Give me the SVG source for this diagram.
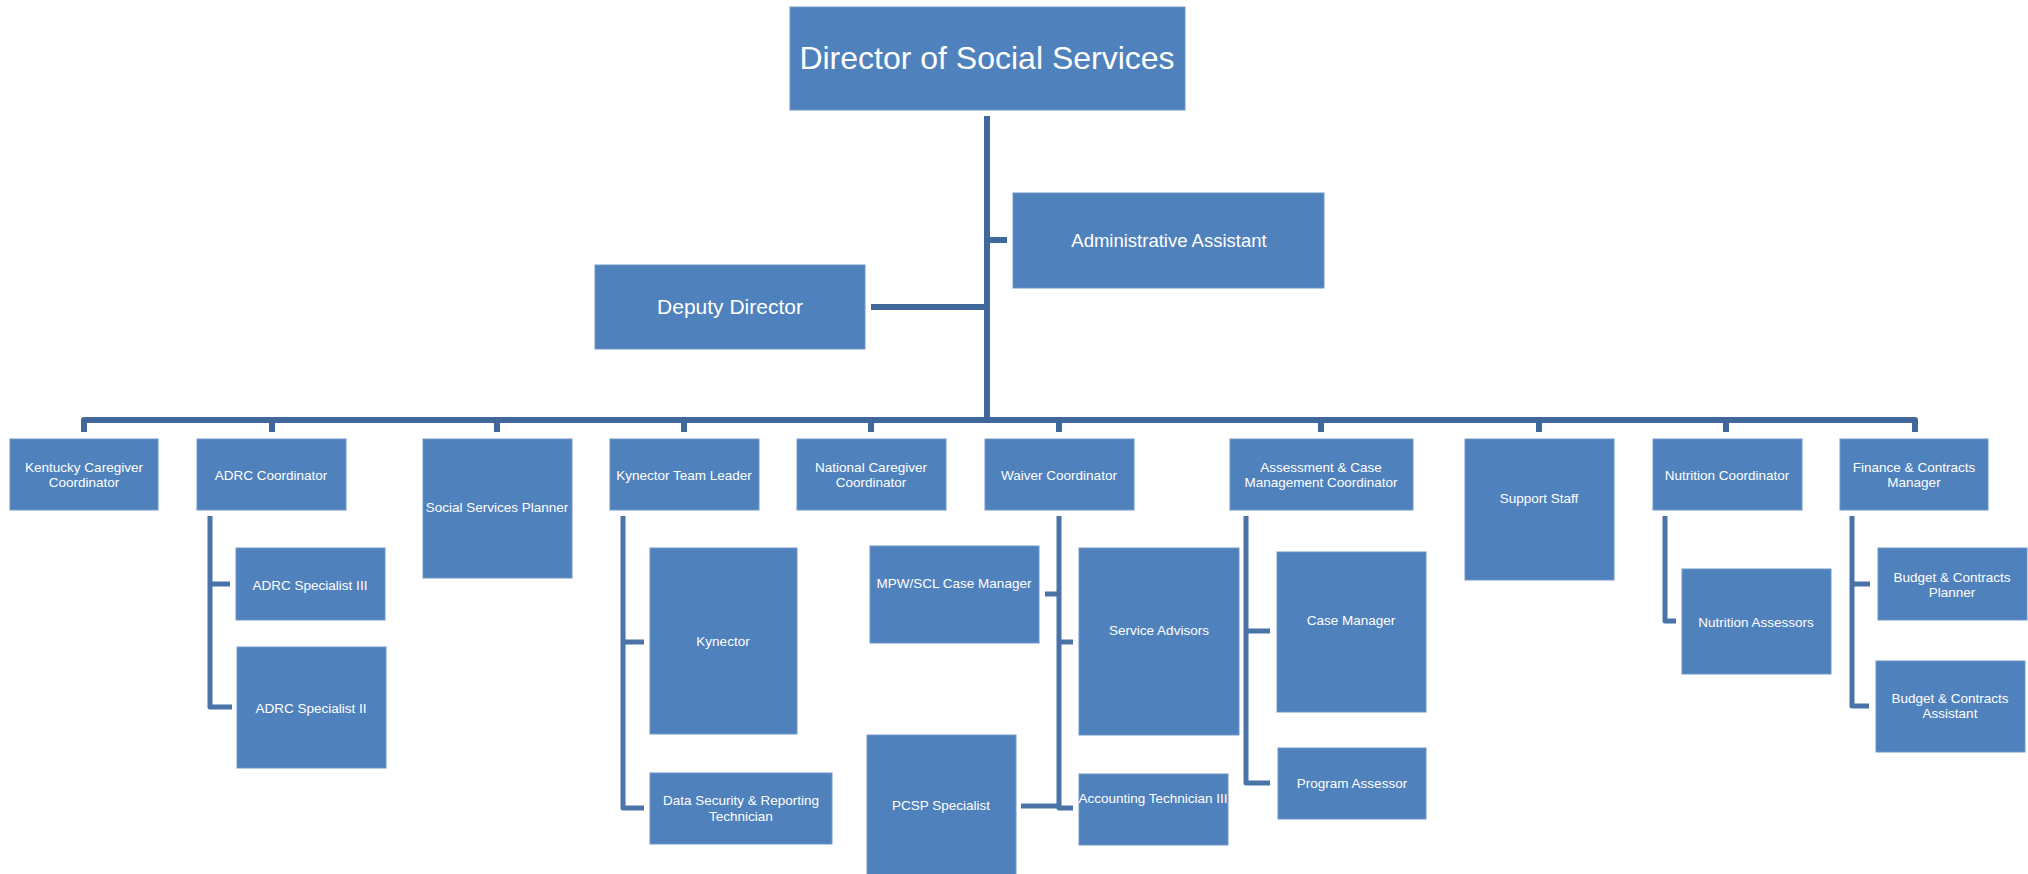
<svg xmlns="http://www.w3.org/2000/svg" width="2028" height="874" viewBox="0 0 2028 874">
<style>
.box{fill:#4F81BD;stroke:#7097C8;stroke-width:1}
.t{font-family:"Liberation Sans",Arial,sans-serif;fill:#FFFFFF;text-anchor:middle;font-size:13.5px}
.ln{fill:none;stroke:#41689B;stroke-width:6;stroke-linejoin:round;stroke-linecap:butt}
.sl{fill:none;stroke:#4A73A8;stroke-width:5;stroke-linejoin:round;stroke-linecap:butt}
</style>
<rect width="2028" height="874" fill="#FFFFFF"/>
<g id="connectors">
<path class="ln" d="M987 116 V420"/>
<path class="ln" d="M871 307 H987"/>
<path class="ln" d="M987 240 H1007"/>
<path class="ln" d="M84 432 V420 H1915 V432"/>
<path class="ln" d="M272 420 V432 M497 420 V432 M684 420 V432 M871 420 V432 M1059 420 V432 M1321 420 V432 M1539 420 V432 M1726 420 V432"/>
<path class="sl" d="M210 516 V707 H232 M210 584 H230"/>
<path class="sl" d="M623 516 V808 H644 M623 642 H644"/>
<path class="sl" d="M1059 516 V808 H1073 M1059 594 H1045 M1059 642 H1073 M1021 806 H1059"/>
<path class="sl" d="M1246 516 V783 H1270 M1246 631 H1270"/>
<path class="sl" d="M1665 516 V621 H1676"/>
<path class="sl" d="M1852 516 V706 H1869 M1852 584 H1870"/>
</g>
<g id="director"><rect class="box" x="790" y="7" width="395" height="103"/><text class="t" x="987" y="69" style="font-size:32px">Director of Social Services</text></g>
<g id="admin-assistant"><rect class="box" x="1013" y="193" width="311" height="95"/><text class="t" x="1169" y="247" style="font-size:18.5px">Administrative Assistant</text></g>
<g id="deputy-director"><rect class="box" x="595" y="265" width="270" height="84"/><text class="t" x="730" y="314" style="font-size:21px">Deputy Director</text></g>

<g id="kentucky-caregiver"><rect class="box" x="10" y="439" width="148" height="71"/><text class="t" x="84" y="472">Kentucky Caregiver</text><text class="t" x="84" y="487">Coordinator</text></g>
<g id="adrc-coordinator"><rect class="box" x="197" y="439" width="149" height="71"/><text class="t" x="271" y="480">ADRC Coordinator</text></g>
<g id="social-services-planner"><rect class="box" x="423" y="439" width="149" height="139"/><text class="t" x="497" y="512">Social Services Planner</text></g>
<g id="kynector-team-leader"><rect class="box" x="610" y="439" width="149" height="71"/><text class="t" x="684" y="480">Kynector Team Leader</text></g>
<g id="national-caregiver"><rect class="box" x="797" y="439" width="149" height="71"/><text class="t" x="871" y="472">National Caregiver</text><text class="t" x="871" y="487">Coordinator</text></g>
<g id="waiver-coordinator"><rect class="box" x="985" y="439" width="149" height="71"/><text class="t" x="1059" y="480">Waiver Coordinator</text></g>
<g id="assessment-coordinator"><rect class="box" x="1230" y="439" width="183" height="71"/><text class="t" x="1321" y="472">Assessment &amp; Case</text><text class="t" x="1321" y="487">Management Coordinator</text></g>
<g id="support-staff"><rect class="box" x="1465" y="439" width="149" height="141"/><text class="t" x="1539" y="503">Support Staff</text></g>
<g id="nutrition-coordinator"><rect class="box" x="1653" y="439" width="149" height="71"/><text class="t" x="1727" y="480">Nutrition Coordinator</text></g>
<g id="finance-manager"><rect class="box" x="1840" y="439" width="148" height="71"/><text class="t" x="1914" y="472">Finance &amp; Contracts</text><text class="t" x="1914" y="487">Manager</text></g>

<g id="adrc-specialist-3"><rect class="box" x="236" y="548" width="149" height="72"/><text class="t" x="310" y="590">ADRC Specialist III</text></g>
<g id="adrc-specialist-2"><rect class="box" x="237" y="647" width="149" height="121"/><text class="t" x="311" y="713">ADRC Specialist II</text></g>
<g id="kynector"><rect class="box" x="650" y="548" width="147" height="186"/><text class="t" x="723" y="646">Kynector</text></g>
<g id="data-security"><rect class="box" x="650" y="773" width="182" height="71"/><text class="t" x="741" y="805">Data Security &amp; Reporting</text><text class="t" x="741" y="821">Technician</text></g>
<g id="mpw-scl"><rect class="box" x="870" y="546" width="169" height="97"/><text class="t" x="954" y="588">MPW/SCL Case Manager</text></g>
<g id="service-advisors"><rect class="box" x="1079" y="548" width="160" height="187"/><text class="t" x="1159" y="635">Service Advisors</text></g>
<g id="pcsp-specialist"><rect class="box" x="867" y="735" width="149" height="145"/><text class="t" x="941" y="810">PCSP Specialist</text></g>
<g id="accounting-tech"><rect class="box" x="1079" y="774" width="149" height="71"/><text class="t" x="1153" y="803">Accounting Technician III</text></g>
<g id="case-manager"><rect class="box" x="1277" y="552" width="149" height="160"/><text class="t" x="1351" y="625">Case Manager</text></g>
<g id="program-assessor"><rect class="box" x="1278" y="748" width="148" height="71"/><text class="t" x="1352" y="788">Program Assessor</text></g>
<g id="nutrition-assessors"><rect class="box" x="1682" y="569" width="149" height="105"/><text class="t" x="1756" y="627">Nutrition Assessors</text></g>
<g id="budget-planner"><rect class="box" x="1878" y="548" width="149" height="72"/><text class="t" x="1952" y="582">Budget &amp; Contracts</text><text class="t" x="1952" y="597">Planner</text></g>
<g id="budget-assistant"><rect class="box" x="1876" y="661" width="149" height="91"/><text class="t" x="1950" y="703">Budget &amp; Contracts</text><text class="t" x="1950" y="718">Assistant</text></g>
</svg>
